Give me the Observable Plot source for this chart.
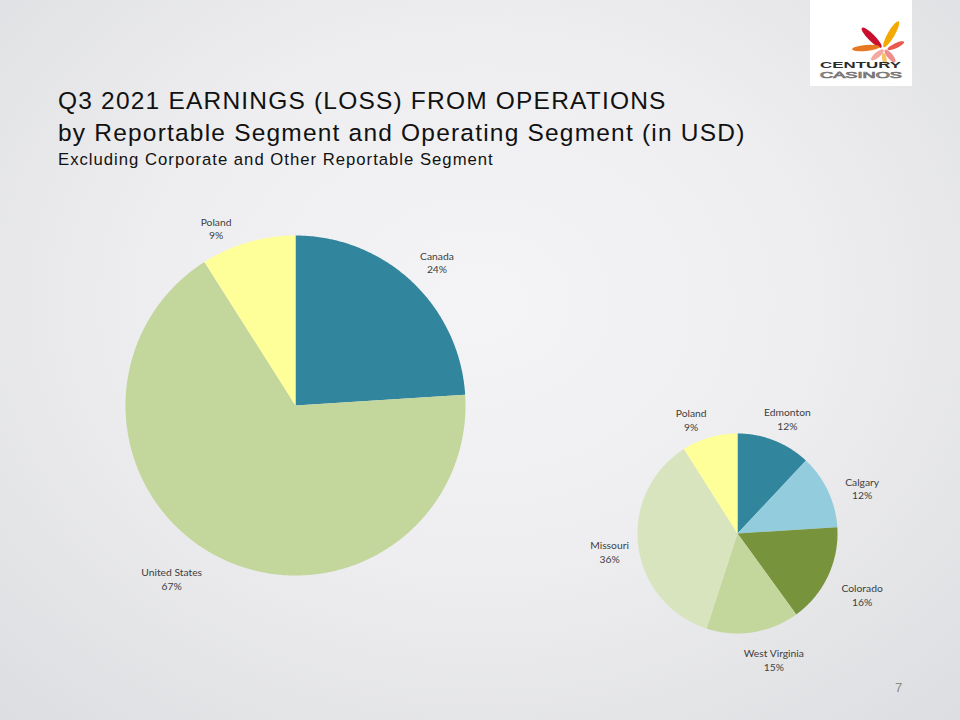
<!DOCTYPE html>
<html><head><meta charset="utf-8">
<script src="https://cdn.jsdelivr.net/npm/d3@7"></script>
<script src="https://cdn.jsdelivr.net/npm/@observablehq/plot@0.6"></script>
<style>
html,body{margin:0;padding:0;}
#slide{position:relative;width:960px;height:720px;overflow:hidden;
 background:radial-gradient(ellipse 75% 80% at 50% 42%, #f4f4f6 0%, #eeeef0 45%, #dcdde0 100%);
 font-family:"Liberation Sans",Arial,sans-serif;}
#title{position:absolute;left:58px;top:85px;color:#111;}
#title .t1{font-size:24.5px;line-height:32px;letter-spacing:1.2px;}
#title .t3{font-size:16.7px;line-height:22px;letter-spacing:1px;}
#chart{position:absolute;left:0;top:0;}
#logo{position:absolute;left:810px;top:0;width:102px;height:86px;background:#fff;}
#pageno{position:absolute;left:895px;top:680px;font-size:13px;color:#8a8a8a;}
</style></head>
<body>
<div id="slide">
  <div id="logo">
    <svg width="102" height="86" viewBox="0 0 102 86">
      <g transform="translate(72,48) scale(1.15)">
        <ellipse cx="-9" cy="-9" rx="12" ry="3" fill="#c8102e" transform="rotate(45 -9 -9)"/>
        <ellipse cx="8" cy="-12" rx="13" ry="3" fill="#f2a900" transform="rotate(-60 8 -12)"/>
        <ellipse cx="-14" cy="0" rx="12" ry="2.6" fill="#e87722" transform="rotate(-5 -14 0)"/>
        <ellipse cx="-4" cy="6" rx="7" ry="2.4" fill="#f4a9a0" transform="rotate(-40 -4 6)"/>
        <ellipse cx="7" cy="7" rx="7" ry="2.4" fill="#ef8c8c" transform="rotate(50 7 7)"/>
        <ellipse cx="12" cy="-2" rx="8" ry="2.2" fill="#e85a4f" transform="rotate(-25 12 -2)"/>
        <ellipse cx="2" cy="9" rx="5" ry="2" fill="#f6c36b" transform="rotate(80 2 9)"/>
      </g>
      <text x="10" y="67.5" textLength="81" lengthAdjust="spacingAndGlyphs" font-family="Liberation Sans,Arial" font-weight="bold" font-size="9" fill="#2b2b2b">CENTURY</text>
      <text x="10" y="78" textLength="82" lengthAdjust="spacingAndGlyphs" font-family="Liberation Sans,Arial" font-size="9" fill="none" stroke="#777" stroke-width="0.7">CASINOS</text>
    </svg>
  </div>
  <div id="title">
    <div class="t1">Q3 2021 EARNINGS (LOSS) FROM OPERATIONS</div>
    <div class="t1">by Reportable Segment and Operating Segment (in USD)</div>
    <div class="t3">Excluding Corporate and Other Reportable Segment</div>
  </div>
  <div id="chart"></div>
  <div id="pageno">7</div>
</div>
<script>
// ---- data ----
const reportableSegments = ["Canada", "United States", "Poland"];
const reportableShares = [24, 67, 9];
const operatingSegments = ["Edmonton", "Calgary", "Colorado", "West Virginia", "Missouri", "Poland"];
const operatingShares = [12, 12, 16, 15, 36, 9];

// ---- styles ----
const reportableColors = ["#31859c", "#c3d69b", "#ffff99"];
const operatingColors = ["#31859c", "#93cddd", "#77933c", "#c3d69b", "#d7e4bd", "#ffff99"];

// ---- layout (label nudges in px, relative to the computed outside position) ----
const reportableNudge = [[3, 4], [-32, -7], [-23, 17]];
const operatingNudge = [[2, 6], [7, 10], [7, 6], [16, -2], [1, 2], [-10, 11]];
const pies = [
  {id: "R", names: reportableSegments, values: reportableShares, colors: reportableColors, nudge: reportableNudge, cx: 295, cy: 405, r: 170, labelK: 1.19},
  {id: "O", names: operatingSegments, values: operatingShares, colors: operatingColors, nudge: operatingNudge, cx: 737, cy: 533, r: 100, labelK: 1.3}
];

const polys = [], labels = [], keys = [], keyColors = [];
for (const p of pies) {
  const arcs = d3.pie().sort(null).value(d => d)(p.values);
  arcs.forEach((a, i) => {
    const key = p.id + ":" + p.names[i];
    keys.push(key); keyColors.push(p.colors[i]);
    polys.push({key, x: p.cx, y: p.cy});
    const n = Math.max(2, Math.ceil((a.endAngle - a.startAngle) / 0.01));
    for (let k = 0; k <= n; k++) {
      const t = a.startAngle + (a.endAngle - a.startAngle) * k / n;
      polys.push({key, x: p.cx + p.r * Math.sin(t), y: p.cy - p.r * Math.cos(t)});
    }
    const m = (a.startAngle + a.endAngle) / 2;
    labels.push({text: p.names[i] + "\n" + p.values[i] + "%",
      x: p.cx + p.r * p.labelK * Math.sin(m) + p.nudge[i][0],
      y: p.cy - p.r * p.labelK * Math.cos(m) + p.nudge[i][1]});
  });
}

const chart = Plot.plot({
  width: 960, height: 720,
  margin: 0,
  style: {background: "transparent", overflow: "visible"},
  x: {domain: [0, 960], range: [0, 960], axis: null},
  y: {domain: [0, 720], range: [0, 720], axis: null},
  color: {type: "ordinal", domain: keys, range: keyColors, legend: false},
  marks: [
    Plot.line(polys, {x: "x", y: "y", z: "key", fill: "key", stroke: null, curve: "linear-closed"}),
    Plot.text(labels, {x: "x", y: "y", text: "text", fontSize: 10.3, lineHeight: 1.3,
      fill: "#404040", fontFamily: "Lato, 'Open Sans', sans-serif"})
  ]
});
document.getElementById("chart").appendChild(chart);
</script>
</body></html>
